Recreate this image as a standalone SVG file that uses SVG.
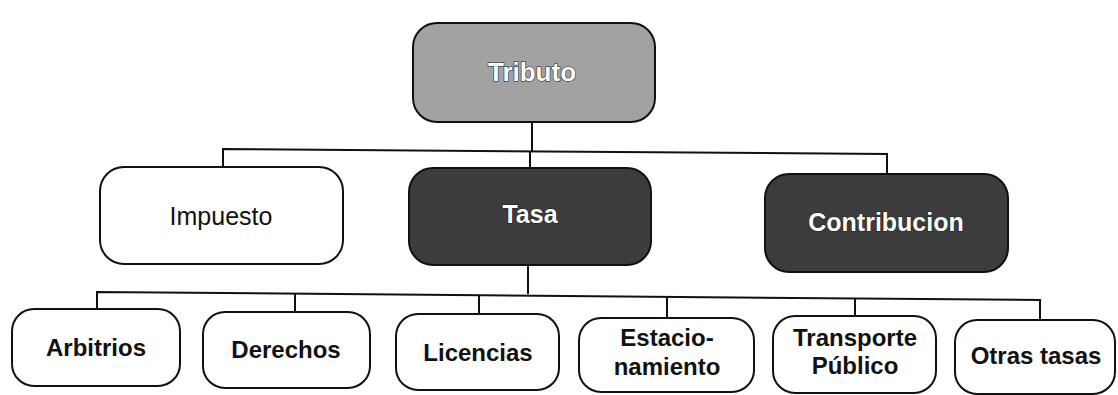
<svg xmlns="http://www.w3.org/2000/svg" width="1118" height="395" viewBox="0 0 1118 395">
<style>
  .box { stroke: #111; stroke-width: 2; }
  .light { fill: #ffffff; }
  .mid { fill: #a2a2a2; }
  .dark { fill: #3c3c3c; }
  .lbl { font-family: "Liberation Sans", Arial, sans-serif; font-size: 24px; font-weight: bold; fill: #111; text-anchor: middle; }
  .inv { font-family: "Liberation Sans", Arial, sans-serif; font-size: 25px; font-weight: bold; fill: #ffffff; text-anchor: middle; stroke: #222; stroke-width: 1.2; paint-order: stroke; }
  .conn { fill: none; stroke: #111; stroke-width: 2; }
</style>
<rect width="1118" height="395" fill="#ffffff"/>
<g id="connectors">
  <path class="conn" d="M532 122 V151"/>
  <path class="conn" d="M223 167 V149 L887 154 V174"/>
  <path class="conn" d="M530 151 V168"/>
  <path class="conn" d="M528 265 V294"/>
  <path class="conn" d="M97 309 V292 L1040 300 V320"/>
  <path class="conn" d="M295 312 V294"/>
  <path class="conn" d="M479 314 V295"/>
  <path class="conn" d="M667 318 V297"/>
  <path class="conn" d="M855 316 V299"/>
</g>
<g id="tributo">
  <rect class="box mid" x="413" y="23" width="242" height="99" rx="24"/>
  <text class="inv" x="532" y="81" style="font-size:26px">Tributo</text>
</g>
<g id="impuesto">
  <rect class="box light" x="100" y="167" width="243" height="97" rx="24"/>
  <text class="lbl" x="221" y="225" style="font-weight:normal;font-size:25px">Impuesto</text>
</g>
<g id="tasa">
  <rect class="box dark" x="409" y="168" width="242" height="97" rx="24"/>
  <text class="inv" x="530" y="223">Tasa</text>
</g>
<g id="contribucion">
  <rect class="box dark" x="765" y="174" width="243" height="98" rx="24"/>
  <text class="inv" x="886" y="231">Contribucion</text>
</g>
<g id="arbitrios">
  <rect class="box light" x="12" y="309" width="168" height="77" rx="22"/>
  <text class="lbl" x="96" y="356">Arbitrios</text>
</g>
<g id="derechos">
  <rect class="box light" x="203" y="312" width="167" height="76" rx="22"/>
  <text class="lbl" x="286" y="358">Derechos</text>
</g>
<g id="licencias">
  <rect class="box light" x="396" y="314" width="163" height="76" rx="22"/>
  <text class="lbl" x="478" y="361">Licencias</text>
</g>
<g id="estacionamiento">
  <rect class="box light" x="579" y="318" width="175" height="74" rx="22"/>
  <text class="lbl" x="667" y="346">Estacio-</text>
  <text class="lbl" x="667" y="375">namiento</text>
</g>
<g id="transporte">
  <rect class="box light" x="773" y="316" width="163" height="77" rx="22"/>
  <text class="lbl" x="855" y="346">Transporte</text>
  <text class="lbl" x="855" y="374">Público</text>
</g>
<g id="otras">
  <rect class="box light" x="955" y="320" width="160" height="74" rx="22"/>
  <text class="lbl" x="1036" y="364">Otras tasas</text>
</g>
</svg>
